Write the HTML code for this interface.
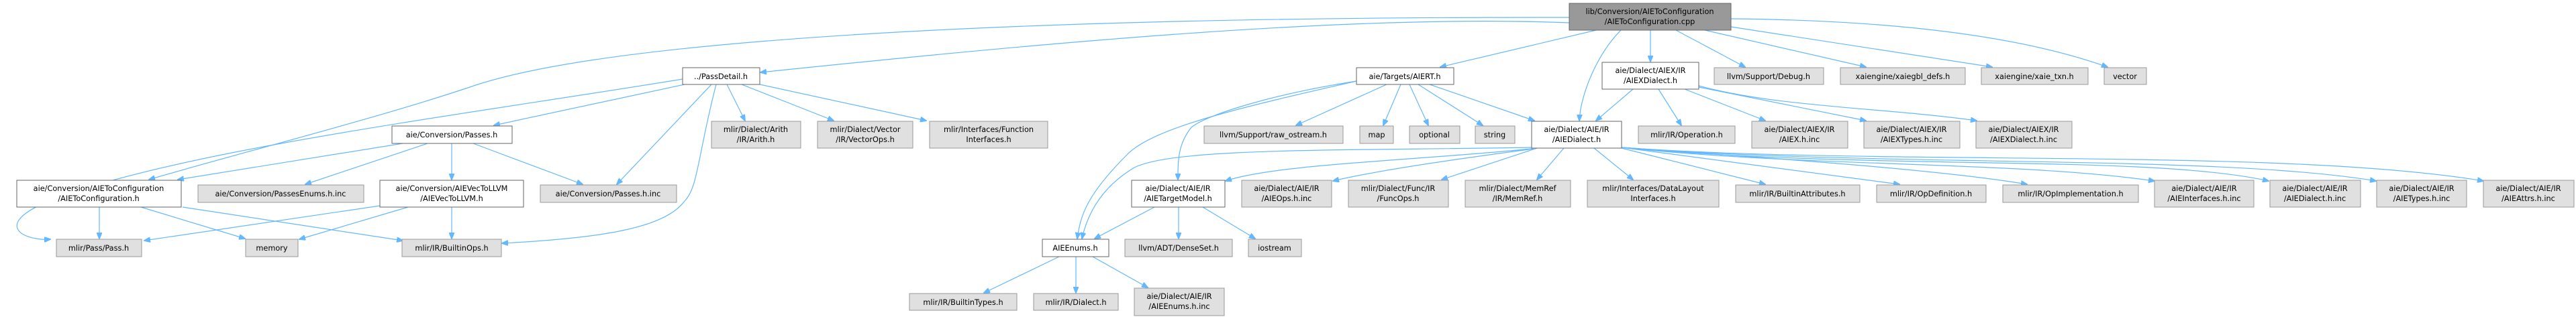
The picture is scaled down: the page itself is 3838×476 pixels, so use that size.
<!DOCTYPE html>
<html><head><meta charset="utf-8"><style>
html,body{margin:0;padding:0;background:#fff;}
svg{display:block;}
text{font-family:"DejaVu Sans","Liberation Sans",sans-serif;font-size:11.3px;fill:#000;text-anchor:middle;}
.g{fill:#e0e0e0;stroke:#999;stroke-width:1;}
.w{fill:#fff;stroke:#666;stroke-width:1;}
.r{fill:#999;stroke:#666;stroke-width:1;}
path{fill:none;stroke:#63b8ff;stroke-width:1.2;}
</style></head><body>
<svg width="3838" height="476" viewBox="0 0 3838 476" xmlns="http://www.w3.org/2000/svg">
<defs><marker id="a" markerWidth="10" markerHeight="8" refX="9" refY="4" orient="auto" markerUnits="userSpaceOnUse"><path d="M0,0 L10,4 L0,8 Z" style="fill:#63b8ff;stroke:#63b8ff;stroke-width:1"/></marker></defs>
<g marker-end="url(#a)">
<!-- root edges -->
<path d="M2338,34 C2000,20 1500,70 1133,108"/>
<path d="M2338,26 C1500,25 900,60 700,130 C550,180 350,230 222,268"/>
<path d="M2378,45 L2146,100"/>
<path d="M2415,45 C2380,80 2355,140 2353,180"/>
<path d="M2459,45 L2459,92"/>
<path d="M2497,45 L2600,100"/>
<path d="M2540,45 L2780,100"/>
<path d="M2579,40 L2968,100"/>
<path d="M2579,28 C2800,30 3000,50 3140,100"/>
<!-- PassDetail edges -->
<path d="M1017,118 C700,170 300,220 100,290 C-20,330 30,360 75,357"/>
<path d="M1020,126 L736,187"/>
<path d="M1060,126 L919,275"/>
<path d="M1067,126 C1040,230 1040,280 1020,300 C990,340 900,355 748,363"/>
<path d="M1083,126 L1110,180"/>
<path d="M1105,126 L1242,180"/>
<path d="M1132,126 L1380,180"/>
<!-- Passes.h edges -->
<path d="M600,214 L265,268"/>
<path d="M637,214 L455,275"/>
<path d="M673,214 L673,268"/>
<path d="M705,214 L868,275"/>
<!-- AIEToConfiguration.h -->
<path d="M148,309 L148,356"/>
<path d="M210,309 L365,356"/>
<path d="M272,309 L600,359"/>
<!-- AIEVecToLLVM -->
<path d="M566,307 L215,359"/>
<path d="M608,309 L446,357"/>
<path d="M673,309 L673,356"/>
<!-- AIERT -->
<path d="M2066,126 L1931,187"/>
<path d="M2087,126 L2061,187"/>
<path d="M2100,126 L2128,187"/>
<path d="M2113,126 L2209,187"/>
<path d="M2130,126 L2286,180"/>
<path d="M2021,121 C1900,140 1800,170 1775,190 C1755,215 1755,240 1755,268"/>
<path d="M2021,121 C1850,160 1720,190 1680,230 C1620,290 1610,320 1605,356"/>
<!-- AIEXDialect -->
<path d="M2433,133 L2378,180"/>
<path d="M2471,133 L2505,187"/>
<path d="M2510,133 L2630,180"/>
<path d="M2531,130 L2780,180"/>
<path d="M2531,128 C2650,160 2800,160 2945,180"/>
<!-- AIEDialect -->
<path d="M2282,220 C2000,225 1750,220 1690,250 C1640,280 1620,320 1612,356"/>
<path d="M2282,222 C2100,240 1900,245 1826,270"/>
<path d="M2285,222 C2150,240 2050,255 1986,270"/>
<path d="M2290,221 L2148,268"/>
<path d="M2330,221 L2290,268"/>
<path d="M2375,221 L2433,268"/>
<path d="M2416,221 L2630,275"/>
<path d="M2416,220 L2830,275"/>
<path d="M2416,220 C2700,240 2900,255 3020,275"/>
<path d="M2416,220 C2700,250 3000,240 3210,270"/>
<path d="M2416,220 C2800,255 3200,230 3380,270"/>
<path d="M2416,220 C2800,250 3300,230 3540,270"/>
<path d="M2416,220 C2800,248 3400,220 3700,270"/>
<!-- AIETargetModel -->
<path d="M1720,309 L1631,356"/>
<path d="M1756,309 L1756,356"/>
<path d="M1792,309 L1870,356"/>
<!-- AIEEnums -->
<path d="M1578,383 L1466,437"/>
<path d="M1603,383 L1603,437"/>
<path d="M1628,383 L1710,429"/>
</g>
<!-- nodes -->
<rect class="r" x="2338" y="5" width="241" height="40"/><text x="2458" y="21">lib/Conversion/AIEToConfiguration</text><text x="2458" y="36">/AIEToConfiguration.cpp</text>
<rect class="w" x="1017" y="101" width="115" height="25"/><text x="1074" y="118">../PassDetail.h</text>
<rect class="w" x="2021" y="101" width="145" height="25"/><text x="2093" y="118">aie/Targets/AIERT.h</text>
<rect class="w" x="2387" y="93" width="144" height="40"/><text x="2459" y="109">aie/Dialect/AIEX/IR</text><text x="2459" y="124">/AIEXDialect.h</text>
<rect class="g" x="2554" y="101" width="163" height="25"/><text x="2635" y="118">llvm/Support/Debug.h</text>
<rect class="g" x="2742" y="101" width="186" height="25"/><text x="2835" y="118">xaiengine/xaiegbl_defs.h</text>
<rect class="g" x="2952" y="101" width="159" height="25"/><text x="3031" y="118">xaiengine/xaie_txn.h</text>
<rect class="g" x="3135" y="101" width="63" height="25"/><text x="3166" y="118">vector</text>

<rect class="w" x="584" y="188" width="179" height="26"/><text x="673" y="205">aie/Conversion/Passes.h</text>
<rect class="g" x="1060" y="181" width="133" height="40"/><text x="1126" y="197">mlir/Dialect/Arith</text><text x="1126" y="212">/IR/Arith.h</text>
<rect class="g" x="1218" y="181" width="142" height="40"/><text x="1289" y="197">mlir/Dialect/Vector</text><text x="1289" y="212">/IR/VectorOps.h</text>
<rect class="g" x="1385" y="181" width="176" height="40"/><text x="1473" y="197">mlir/Interfaces/Function</text><text x="1473" y="212">Interfaces.h</text>
<rect class="g" x="1794" y="188" width="207" height="26"/><text x="1897" y="205">llvm/Support/raw_ostream.h</text>
<rect class="g" x="2026" y="188" width="50" height="26"/><text x="2051" y="205">map</text>
<rect class="g" x="2100" y="188" width="75" height="26"/><text x="2137" y="205">optional</text>
<rect class="g" x="2198" y="188" width="59" height="26"/><text x="2227" y="205">string</text>
<rect class="w" x="2282" y="181" width="134" height="40"/><text x="2349" y="197">aie/Dialect/AIE/IR</text><text x="2349" y="212">/AIEDialect.h</text>
<rect class="g" x="2441" y="188" width="144" height="26"/><text x="2513" y="205">mlir/IR/Operation.h</text>
<rect class="g" x="2610" y="181" width="143" height="40"/><text x="2681" y="197">aie/Dialect/AIEX/IR</text><text x="2681" y="212">/AIEX.h.inc</text>
<rect class="g" x="2777" y="181" width="143" height="40"/><text x="2848" y="197">aie/Dialect/AIEX/IR</text><text x="2848" y="212">/AIEXTypes.h.inc</text>
<rect class="g" x="2944" y="181" width="143" height="40"/><text x="3015" y="197">aie/Dialect/AIEX/IR</text><text x="3015" y="212">/AIEXDialect.h.inc</text>

<rect class="w" x="25" y="269" width="245" height="40"/><text x="147" y="285">aie/Conversion/AIEToConfiguration</text><text x="147" y="300">/AIEToConfiguration.h</text>
<rect class="g" x="295" y="276" width="247" height="26"/><text x="418" y="293">aie/Conversion/PassesEnums.h.inc</text>
<rect class="w" x="566" y="269" width="214" height="40"/><text x="673" y="285">aie/Conversion/AIEVecToLLVM</text><text x="673" y="300">/AIEVecToLLVM.h</text>
<rect class="g" x="805" y="276" width="203" height="26"/><text x="906" y="293">aie/Conversion/Passes.h.inc</text>
<rect class="w" x="1686" y="269" width="139" height="40"/><text x="1755" y="285">aie/Dialect/AIE/IR</text><text x="1755" y="300">/AIETargetModel.h</text>
<rect class="g" x="1850" y="269" width="134" height="40"/><text x="1917" y="285">aie/Dialect/AIE/IR</text><text x="1917" y="300">/AIEOps.h.inc</text>
<rect class="g" x="2009" y="269" width="149" height="40"/><text x="2083" y="285">mlir/Dialect/Func/IR</text><text x="2083" y="300">/FuncOps.h</text>
<rect class="g" x="2183" y="269" width="157" height="40"/><text x="2261" y="285">mlir/Dialect/MemRef</text><text x="2261" y="300">/IR/MemRef.h</text>
<rect class="g" x="2365" y="269" width="196" height="40"/><text x="2463" y="285">mlir/Interfaces/DataLayout</text><text x="2463" y="300">Interfaces.h</text>
<rect class="g" x="2586" y="276" width="185" height="26"/><text x="2678" y="293">mlir/IR/BuiltinAttributes.h</text>
<rect class="g" x="2796" y="276" width="163" height="26"/><text x="2877" y="293">mlir/IR/OpDefinition.h</text>
<rect class="g" x="2984" y="276" width="202" height="26"/><text x="3085" y="293">mlir/IR/OpImplementation.h</text>
<rect class="g" x="3210" y="269" width="148" height="40"/><text x="3284" y="285">aie/Dialect/AIE/IR</text><text x="3284" y="300">/AIEInterfaces.h.inc</text>
<rect class="g" x="3382" y="269" width="135" height="40"/><text x="3449" y="285">aie/Dialect/AIE/IR</text><text x="3449" y="300">/AIEDialect.h.inc</text>
<rect class="g" x="3541" y="269" width="134" height="40"/><text x="3608" y="285">aie/Dialect/AIE/IR</text><text x="3608" y="300">/AIETypes.h.inc</text>
<rect class="g" x="3700" y="269" width="135" height="40"/><text x="3767" y="285">aie/Dialect/AIE/IR</text><text x="3767" y="300">/AIEAttrs.h.inc</text>

<rect class="g" x="84" y="357" width="127" height="26"/><text x="147" y="374">mlir/Pass/Pass.h</text>
<rect class="g" x="366" y="357" width="78" height="26"/><text x="405" y="374">memory</text>
<rect class="g" x="599" y="357" width="148" height="26"/><text x="673" y="374">mlir/IR/BuiltinOps.h</text>
<rect class="w" x="1553" y="357" width="99" height="26"/><text x="1602" y="374">AIEEnums.h</text>
<rect class="g" x="1676" y="357" width="160" height="26"/><text x="1756" y="374">llvm/ADT/DenseSet.h</text>
<rect class="g" x="1860" y="357" width="79" height="26"/><text x="1899" y="374">iostream</text>

<rect class="g" x="1355" y="438" width="160" height="25"/><text x="1435" y="455">mlir/IR/BuiltinTypes.h</text>
<rect class="g" x="1540" y="438" width="126" height="25"/><text x="1603" y="455">mlir/IR/Dialect.h</text>
<rect class="g" x="1690" y="430" width="134" height="41"/><text x="1757" y="446">aie/Dialect/AIE/IR</text><text x="1757" y="461">/AIEEnums.h.inc</text>
</svg>
</body></html>
